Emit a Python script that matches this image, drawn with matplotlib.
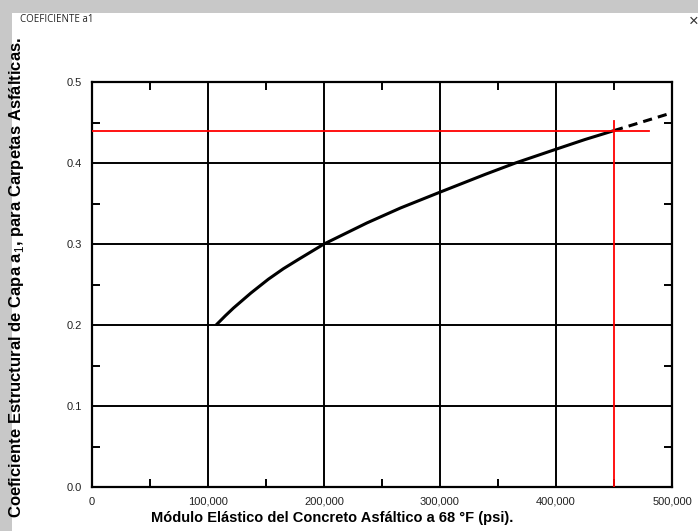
import numpy as np
import matplotlib
matplotlib.use("Agg")
import matplotlib.pyplot as plt
from matplotlib.patches import Rectangle

plt.rcParams['font.family'] = ['Liberation Sans', 'DejaVu Sans']
plt.rcParams['mathtext.fontset'] = 'custom'
plt.rcParams['mathtext.rm'] = 'Liberation Sans'
plt.rcParams['mathtext.bf'] = 'Liberation Sans:bold'

# curve (psi, a1)
modulus_solid = [107000, 115000, 122000, 137000, 152000, 165000, 178000, 200000, 237000,
                 266000, 300000, 339000, 365000, 400000, 425000, 450000]
a1_solid = [0.200, 0.2115, 0.221, 0.2395, 0.2565, 0.2695, 0.281, 0.300, 0.326,
            0.3445, 0.364, 0.386, 0.400, 0.417, 0.429, 0.440]
modulus_dashed = [450000, 475000, 500000]
a1_dashed = [0.440, 0.451, 0.462]

# red reading lines
read_modulus = 450000
read_a1 = 0.44
red_h_end = 480000
red_v_top = 0.452

x_ticks = [0, 100000, 200000, 300000, 400000, 500000]
x_labels = ['0', '100,000', '200,000', '300,000', '400,000', '500,000']
y_ticks = [0.0, 0.1, 0.2, 0.3, 0.4, 0.5]
y_labels = ['0.0', '0.1', '0.2', '0.3', '0.4', '0.5']

fig = plt.figure(figsize=(6.98, 5.31), dpi=100)
fig.patch.set_facecolor('#c8c8c8')
# window body
fig.patches.append(Rectangle((12 / 698, 0), 1, 1 - 13 / 531, transform=fig.transFigure,
                             facecolor='white', edgecolor='none', zorder=-10))
fig.text(20 / 698, 1 - 20 / 531, 'COEFICIENTE a1', fontsize=7, va='center', ha='left',
         family=['Open Sans', 'DejaVu Sans'], color='#222222')
fig.text(694 / 698, 1 - 21 / 531, '×', fontsize=12, va='center', ha='center', color='#333333')

ax = fig.add_axes([92 / 698, 1 - 487 / 531, 580 / 698, (487 - 82) / 531])
ax.set_zorder(2)
ax.set_xlim(0, 500000)
ax.set_ylim(0, 0.5)

for xv in x_ticks[1:-1]:
    ax.axvline(xv, color='black', lw=1.4, zorder=1)
for yv in y_ticks[1:-1]:
    ax.axhline(yv, color='black', lw=1.4, zorder=1)

ax.plot(modulus_solid, a1_solid, color='black', lw=2.2, solid_capstyle='butt',
        solid_joinstyle='round', zorder=3)
ax.plot(modulus_dashed, a1_dashed, color='black', lw=2.2, ls=(0, (3, 2)), zorder=3)

ax.plot([0, red_h_end], [read_a1, read_a1], color='red', lw=1.3, zorder=4)
ax.plot([read_modulus, read_modulus], [0, red_v_top], color='red', lw=1.3, zorder=4)

for s in ax.spines.values():
    s.set_linewidth(1.6)

ax.set_xticks(x_ticks)
ax.set_xticklabels(x_labels)
ax.set_yticks(y_ticks)
ax.set_yticklabels(y_labels)
ax.set_xticks(np.arange(50000, 500000, 100000), minor=True)
ax.set_yticks(np.arange(0.05, 0.5, 0.1), minor=True)
ax.tick_params(which='major', length=0, labelsize=8, pad=7, colors='#222222')
ax.tick_params(which='minor', direction='in', length=6, width=1.4,
               top=True, right=True, bottom=True, left=True)

fig.text(332 / 698, 1 - 518 / 531, 'Módulo Elástico del Concreto Asfáltico a 68 °F (psi).',
         fontsize=10.5, fontweight='bold', ha='center', va='center')
fig.text(17 / 698, 1 - 277 / 531,
         r'Coeficiente Estructural de Capa a$_1$, para Carpetas Asfálticas.',
         fontsize=12, fontweight='bold', rotation=90, ha='center', va='center')

fig.savefig('out.png', dpi=100, facecolor=fig.get_facecolor())
